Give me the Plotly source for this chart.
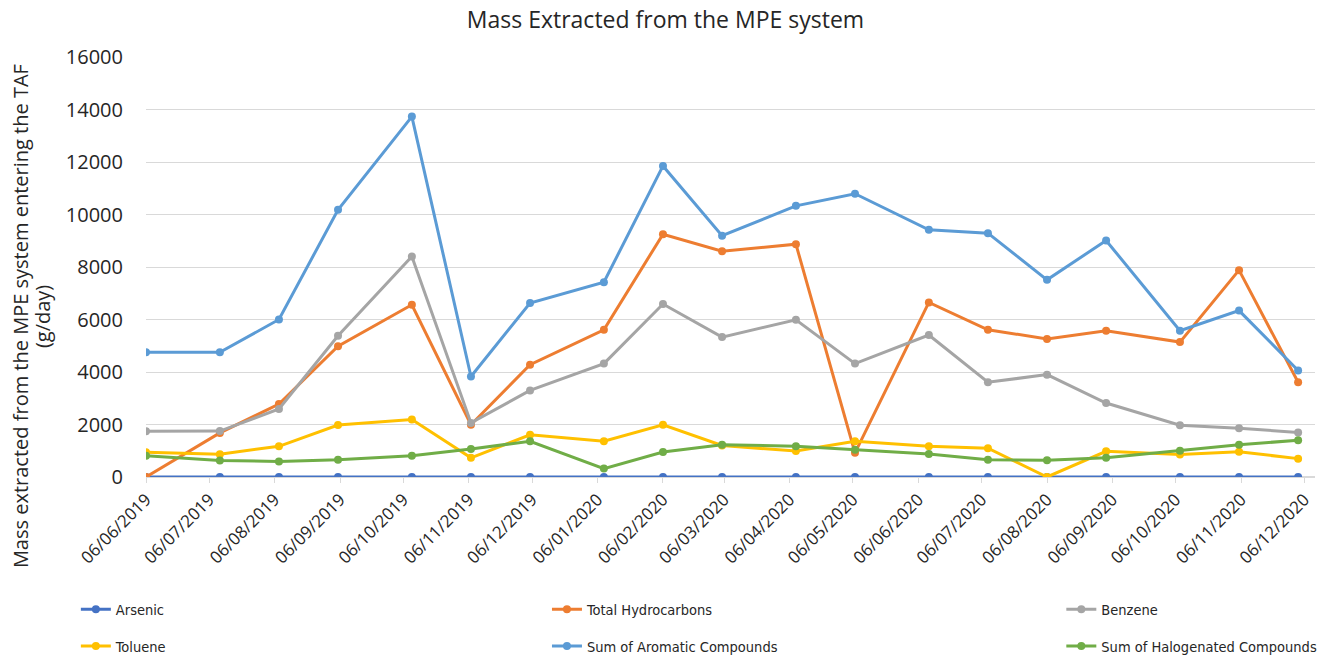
import plotly.graph_objects as go

# Sampling dates (x)
dates = ["2019-06-06", "2019-07-11", "2019-08-08", "2019-09-05", "2019-10-10",
         "2019-11-07", "2019-12-05", "2020-01-09", "2020-02-06", "2020-03-05",
         "2020-04-09", "2020-05-07", "2020-06-11", "2020-07-09", "2020-08-06",
         "2020-09-03", "2020-10-08", "2020-11-05", "2020-12-03"]

arsenic = [0] * 19
total_hydrocarbons = [0, 1680, 2780, 4980, 6560, 1990, 4280, 5610, 9250, 8600,
                      8870, 920, 6650, 5610, 5260, 5570, 5140, 7880, 3610]
benzene = [1740, 1750, 2590, 5380, 8400, 2060, 3300, 4320, 6590, 5330,
           5990, 4320, 5410, 3610, 3900, 2820, 1970, 1860, 1700]
toluene = [940, 870, 1170, 1980, 2190, 730, 1610, 1360, 1990, 1200,
           990, 1360, 1170, 1100, 0, 980, 860, 960, 700]
sum_aromatic = [4750, 4750, 6000, 10180, 13730, 3830, 6630, 7420, 11850, 9190,
                10330, 10790, 9420, 9290, 7510, 9010, 5570, 6340, 4060]
sum_halogenated = [810, 630, 590, 660, 810, 1070, 1360, 320, 950, 1230,
                   1170, 1040, 880, 660, 640, 730, 1000, 1230, 1400]

tick_dates = ["2019-06-06", "2019-07-06", "2019-08-06", "2019-09-06", "2019-10-06",
              "2019-11-06", "2019-12-06", "2020-01-06", "2020-02-06", "2020-03-06",
              "2020-04-06", "2020-05-06", "2020-06-06", "2020-07-06", "2020-08-06",
              "2020-09-06", "2020-10-06", "2020-11-06", "2020-12-06"]
tick_labels = ["06/06/2019", "06/07/2019", "06/08/2019", "06/09/2019", "06/10/2019",
               "06/11/2019", "06/12/2019", "06/01/2020", "06/02/2020", "06/03/2020",
               "06/04/2020", "06/05/2020", "06/06/2020", "06/07/2020", "06/08/2020",
               "06/09/2020", "06/10/2020", "06/11/2020", "06/12/2020"]

y_title_lines = ["Mass extracted from the MPE system entering the TAF", "(g/day)"]

series = [
    ("Arsenic", arsenic, "#4472C4", "legend"),
    ("Toluene", toluene, "#FFC000", "legend"),
    ("Total Hydrocarbons", total_hydrocarbons, "#ED7D31", "legend2"),
    ("Sum of Aromatic Compounds", sum_aromatic, "#5B9BD5", "legend2"),
    ("Benzene", benzene, "#A5A5A5", "legend3"),
    ("Sum of Halogenated Compounds", sum_halogenated, "#70AD47", "legend3"),
]
draw_order = ["Arsenic", "Total Hydrocarbons", "Benzene", "Toluene",
              "Sum of Aromatic Compounds", "Sum of Halogenated Compounds"]

fig = go.Figure()
lookup = {s[0]: s for s in series}
for name in draw_order:
    _, vals, col, lg = lookup[name]
    fig.add_trace(go.Scatter(
        x=dates, y=vals, name=name, mode="lines+markers",
        line=dict(color=col, width=3),
        marker=dict(color=col, size=8),
        legend=lg, legendgroup=name,
    ))

txt = "#262626"
legend_common = dict(orientation="v", yanchor="top", y=-0.277, xanchor="left",
                     font=dict(family="DejaVu Sans Condensed", size=14.5, color=txt),
                     bgcolor="rgba(0,0,0,0)", tracegroupgap=15, itemwidth=30,
                     traceorder="grouped")

fig.update_layout(
    width=1323, height=658,
    margin=dict(l=146, r=8, t=57, b=181, autoexpand=False),
    paper_bgcolor="white", plot_bgcolor="white",
    title=dict(text="Mass Extracted from the MPE system", x=0.503, xanchor="center",
               y=0.969, yanchor="middle",
               font=dict(family="Open Sans", size=23, color=txt)),
    font=dict(family="Open Sans", color=txt),
    legend=dict(x=-0.060, **legend_common),
    legend2=dict(x=0.343, **legend_common),
    legend3=dict(x=0.783, **legend_common),
    xaxis=dict(type="date", range=["2019-06-06", "2020-12-11"],
               tickvals=tick_dates, ticktext=tick_labels, tickangle=-45,
               tickfont=dict(family="Open Sans", size=17, color=txt),
               showgrid=False, showline=False, zeroline=False,
               ticks="outside", ticklen=5, tickcolor="#D9D9D9"),
    yaxis=dict(range=[0, 16000], dtick=2000, tickformat="d",
               tickfont=dict(family="Open Sans", size=20, color=txt),
               showgrid=True, gridcolor="#D9D9D9", gridwidth=1,
               zeroline=True, zerolinecolor="#D9D9D9", showline=False, ticks="",
               ticklabelstandoff=22),
    annotations=[
        dict(text=y_title_lines[0], xref="paper", yref="paper", x=-0.1078, y=0.383,
             xanchor="center", yanchor="middle", textangle=-90, showarrow=False,
             font=dict(family="Open Sans", size=20, color=txt)),
        dict(text=y_title_lines[1], xref="paper", yref="paper", x=-0.089, y=0.383,
             xanchor="center", yanchor="middle", textangle=-90, showarrow=False,
             font=dict(family="Open Sans", size=20, color=txt)),
    ],
)

fig.write_html("out.html", config={"displayModeBar": False},
               post_script="document.body.style.margin='0';")
